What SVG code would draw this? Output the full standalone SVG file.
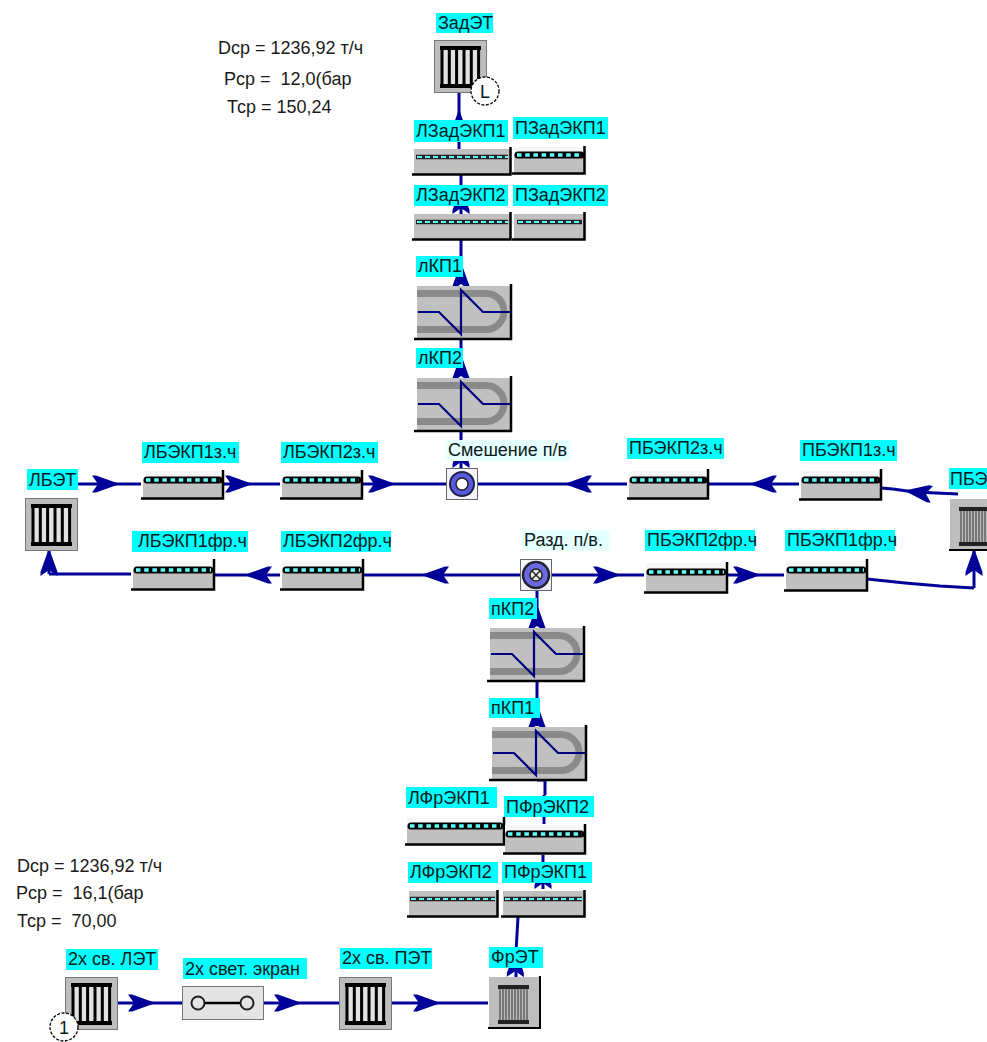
<svg xmlns="http://www.w3.org/2000/svg" width="987" height="1042" viewBox="0 0 987 1042">
<style>
text{font-family:"Liberation Sans",Arial,sans-serif;font-size:18px;fill:#0a1a1a;white-space:pre}
.t{font-size:18px;fill:#1a1a1a}
.lb{fill:#00ffff}
.lc{fill:#e6ffff}
.b{fill:#c0c0c0}
.tp{fill:#f6f6f6}
.k{fill:none;stroke:#000;stroke-width:2.5}
.c1{fill:none;stroke:#000;stroke-width:7;stroke-linecap:round}
.c2{fill:none;stroke:#5fffff;stroke-width:3.5;stroke-dasharray:4.5 3.7}
.d1{fill:none;stroke:#222;stroke-width:4.5}
.d2{fill:none;stroke:#5fffff;stroke-width:2;stroke-dasharray:5 3}
.l{fill:none;stroke:#000099;stroke-width:3}
.a{fill:none;stroke:#000099;stroke-width:3;marker-mid:url(#ah)}
</style>
<defs>
<marker id="ah" markerUnits="userSpaceOnUse" markerWidth="28" markerHeight="20" refX="25" refY="10" orient="auto">
<path d="M0 1.500L4 1.500L25 9L25 11L4 18.500L0 18.500L6 10Z" fill="#000099"/>
</marker>
<g id="et">
<rect x="0.5" y="0.5" width="52" height="52" fill="#bdbdbd" stroke="#777"/>
<rect x="7" y="8" width="39" height="36" fill="#e2e2e2"/>
<rect x="6" y="6" width="41" height="4" fill="#000"/>
<rect x="6" y="44" width="41" height="4" fill="#000"/>
<path d="M8 8V46M15.300 8V46M22.600 8V46M30 8V46M37.300 8V46M44.600 8V46" fill="none" stroke="#000" stroke-width="3"/>
</g>
<g id="etf">
<rect x="0" y="0" width="50" height="50" fill="#bdbdbd"/>
<path d="M-1 51H51V-1" fill="none" stroke="#000" stroke-width="2"/>
<path d="M11 8V46M14 8V46M17 8V46M20 8V46M23 8V46M26 8V46M29 8V46M32 8V46M35 8V46M38 8V46" fill="none" stroke="#666" stroke-width="1.6"/>
<rect x="9" y="8" width="31" height="4" fill="#222"/>
<rect x="9" y="43" width="31" height="4" fill="#222"/>
</g>
<g id="kp">
<rect x="1" y="2" width="94" height="52" fill="#c0c0c0"/>
<path d="M1 9.500H70A18 18 0 0 1 70 45.500H1" fill="none" stroke="#8a8a8a" stroke-width="7"/>
<path d="M-2 55H95V0" fill="none" stroke="#000" stroke-width="2.500"/>
<path d="M2 28H23L45 50V6L67 28H94" fill="none" stroke="#000080" stroke-width="2.200"/>
</g>
</defs>
<g id="connectors">
<polyline class="a" points="459,149 459,112 459,92"/>
<polyline class="a" points="461,240 461,189 461,175"/>
<polyline class="a" points="461,284 461,265 461,240"/>
<polyline class="a" points="461,376 461,357 461,338"/>
<polyline class="a" points="461,468 461,443 461,431"/>
<polyline class="a" points="78,484 117,484 141,484"/>
<polyline class="a" points="223,484 250,484 280,484"/>
<polyline class="a" points="362,484 393,484 446,484"/>
<polyline class="a" points="627,484 567,484 478,484"/>
<polyline class="a" points="799,484 752,484 708,484"/>
<polyline class="a" points="915,492 907,491 893,489"/>
<polyline class="l" points="958,494 915,492"/>
<polyline class="l" points="893,489 881,488"/>
<polyline class="a" points="520,575 424,575 363,575"/>
<polyline class="a" points="280,575 247,575 214,575"/>
<polyline class="l" points="131,574 49,574"/>
<polyline class="a" points="49,574 49,551 49,549"/>
<polyline class="a" points="552,575 618,575 644,575"/>
<polyline class="a" points="727,575 758,575 784,575"/>
<polyline class="l" points="867,579 905,583 940,586 974,588"/>
<polyline class="a" points="974,588 974,551 974,549"/>
<polyline class="a" points="537,626 537,607 537,591"/>
<polyline class="a" points="537,726 537,706 537,682"/>
<polyline class="l" points="537,780 545,780 545,795"/>
<polyline class="l" points="544,795 544,824"/>
<polyline class="a" points="543,889 543,864 543,855"/>
<polyline class="a" points="516,977 516,952 518,917"/>
<polyline class="a" points="117,1003 153,1003 182,1003"/>
<polyline class="a" points="264,1003 299,1003 339,1003"/>
<polyline class="a" points="391,1003 438,1003 488,1003"/>
</g>
<g id="stats-top">
<text class="t" x="218" y="54">Dср = 1236,92 т/ч</text>
<text class="t" x="224" y="85">Рср =  12,0(бар</text>
<text class="t" x="227" y="113">Тср = 150,24</text>
</g>
<g id="stats-bottom">
<text class="t" x="17" y="872">Dср = 1236,92 т/ч</text>
<text class="t" x="16" y="899">Рср =  16,1(бар</text>
<text class="t" x="17" y="927">Тср =  70,00</text>
</g>
<g id="ZadET"><use href="#et" x="434" y="40"/><rect class="lb" x="436" y="13" width="57" height="20"/><text x="438" y="29">ЗадЭТ</text>
<circle cx="485" cy="91" r="14" fill="#fff" stroke="#000" stroke-width="1.300" stroke-dasharray="3 1.500"/><text x="480" y="98">L</text></g>
<g id="LZad1"><rect class="b" x="414" y="149" width="96" height="25"/><path class="k" d="M412 174.500H510.500V147"/><path class="d1" d="M416 157H508"/><path class="d2" d="M417 157H508"/><rect class="lb" x="414" y="120" width="94" height="22"/><text x="416" y="137">ЛЗадЭКП1</text></g>
<g id="PZad1"><rect class="tp" x="514" y="147" width="70" height="8"/><rect class="b" x="514" y="155" width="70" height="18"/><path class="k" d="M512 173.500H584.500V146"/><path class="c1" d="M518 155H581"/><path class="c2" d="M517 155H582"/><rect class="lb" x="513" y="117" width="95" height="22"/><text x="515" y="134">ПЗадЭКП1</text></g>
<g id="LZad2"><rect class="b" x="414" y="214" width="96" height="25"/><path class="k" d="M412 239.500H510.500V212"/><path class="d1" d="M416 222H508"/><path class="d2" d="M417 222H508"/><rect class="lb" x="414" y="185" width="94" height="21"/><text x="416" y="201">ЛЗадЭКП2</text></g>
<g id="PZad2"><rect class="b" x="514" y="214" width="70" height="25"/><path class="k" d="M512 239.500H584.500V212"/><path class="d1" d="M517 222H582"/><path class="d2" d="M518 222H582"/><rect class="lb" x="513" y="185" width="95" height="21"/><text x="515" y="201">ПЗадЭКП2</text></g>
<g id="lKP1"><use href="#kp" x="416" y="284"/><rect class="lb" x="416" y="256" width="47" height="21"/><text x="418" y="272">лКП1</text></g>
<g id="lKP2"><use href="#kp" x="416" y="376"/><rect class="lb" x="416" y="348" width="47" height="20"/><text x="418" y="364">лКП2</text></g>
<g id="Mix"><rect x="446.500" y="468.500" width="31" height="31" fill="#f4f4ff" stroke="#666"/><circle cx="462" cy="484" r="12" fill="#5a5ae0" stroke="#224" stroke-width="2"/><circle cx="462" cy="484" r="6" fill="#fff" stroke="#222" stroke-width="1.500"/><rect class="lc" x="446" y="440" width="124" height="21"/><text x="448" y="456">Смешение п/в</text></g>
<g id="LBET"><use href="#et" x="25" y="498"/><rect class="lb" x="27" y="469" width="51" height="21"/><text x="29" y="486">ЛБЭТ</text></g>
<g id="LBE1z"><rect class="tp" x="143" y="471" width="79" height="9"/><rect class="b" x="143" y="480" width="79" height="18"/><path class="k" d="M141 498.500H223V470"/><path class="c1" d="M147 480H219"/><path class="c2" d="M146 480H220"/><rect class="lb" x="142" y="442" width="97" height="21"/><text x="144" y="458">ЛБЭКП1з.ч</text></g>
<g id="LBE2z"><rect class="tp" x="282" y="471" width="79" height="9"/><rect class="b" x="282" y="480" width="79" height="18"/><path class="k" d="M280 498.500H362V470"/><path class="c1" d="M286 480H358"/><path class="c2" d="M285 480H359"/><rect class="lb" x="281" y="442" width="97" height="21"/><text x="283" y="458">ЛБЭКП2з.ч</text></g>
<g id="PBE2z"><rect class="tp" x="629" y="471" width="78" height="9"/><rect class="b" x="629" y="480" width="78" height="18"/><path class="k" d="M627 498.500H708V469"/><path class="c1" d="M633 480H704"/><path class="c2" d="M632 480H705"/><rect class="lb" x="627" y="438" width="97" height="21"/><text x="629" y="454">ПБЭКП2з.ч</text></g>
<g id="PBE1z"><rect class="tp" x="801" y="471" width="79" height="9"/><rect class="b" x="801" y="480" width="79" height="19"/><path class="k" d="M799 499.500H881V469"/><path class="c1" d="M805 480H877"/><path class="c2" d="M804 480H878"/><rect class="lb" x="800" y="440" width="97" height="21"/><text x="802" y="456">ПБЭКП1з.ч</text></g>
<g id="PBET"><use href="#etf" x="950" y="499"/><rect class="lb" x="949" y="468" width="38" height="21"/><text x="950" y="485">ПБЭ</text></g>
<g id="LBE1f"><rect class="tp" x="133" y="561" width="80" height="9"/><rect class="b" x="133" y="570" width="80" height="19"/><path class="k" d="M131 589.500H214V559"/><path class="c1" d="M137 570H210"/><path class="c2" d="M136 570H211"/><rect class="lb" x="132" y="531" width="116" height="21"/><text x="138" y="547">ЛБЭКП1фр.ч</text></g>
<g id="LBE2f"><rect class="tp" x="282" y="561" width="80" height="9"/><rect class="b" x="282" y="570" width="80" height="19"/><path class="k" d="M280 589.500H363V559"/><path class="c1" d="M286 570H359"/><path class="c2" d="M285 570H360"/><rect class="lb" x="281" y="531" width="110" height="21"/><text x="283" y="547">ЛБЭКП2фр.ч</text></g>
<g id="PBE2f"><rect class="tp" x="646" y="563" width="80" height="9"/><rect class="b" x="646" y="572" width="80" height="20"/><path class="k" d="M644 592.500H727V562"/><path class="c1" d="M650 572H723"/><path class="c2" d="M649 572H724"/><rect class="lb" x="645" y="530" width="110" height="21"/><text x="647" y="546">ПБЭКП2фр.ч</text></g>
<g id="PBE1f"><rect class="tp" x="786" y="561" width="80" height="9"/><rect class="b" x="786" y="570" width="80" height="20"/><path class="k" d="M784 590.500H867V559"/><path class="c1" d="M790 570H863"/><path class="c2" d="M789 570H864"/><rect class="lb" x="785" y="530" width="110" height="21"/><text x="787" y="546">ПБЭКП1фр.ч</text></g>
<g id="Razd"><rect x="520.500" y="559.500" width="31" height="31" fill="#f4f4ff" stroke="#666"/><circle cx="536" cy="575" r="13" fill="#6a6ae0" stroke="#223" stroke-width="2.500"/><circle cx="536" cy="575" r="6" fill="#eee" stroke="#222" stroke-width="1.500"/><path d="M532 571L540 579M540 571L532 579" stroke="#222" stroke-width="1.500"/><rect class="lc" x="522" y="530" width="88" height="21"/><text x="524" y="546">Разд. п/в.</text></g>
<g id="pKP2"><use href="#kp" x="489" y="626"/><rect class="lb" x="489" y="598" width="48" height="21"/><text x="491" y="615">пКП2</text></g>
<g id="pKP1"><use href="#kp" x="491" y="725"/><rect class="lb" x="489" y="698" width="51" height="20"/><text x="491" y="714">пКП1</text></g>
<g id="LFr1"><rect class="tp" x="407" y="818" width="96" height="8"/><rect class="b" x="407" y="826" width="96" height="18"/><path class="k" d="M405 844.500H504V817"/><path class="c1" d="M411 826H500"/><path class="c2" d="M410 826H501"/><rect class="lb" x="406" y="787" width="91" height="21"/><text x="408" y="804">ЛФрЭКП1</text></g>
<g id="PFr2"><rect class="tp" x="505" y="825" width="79" height="9"/><rect class="b" x="505" y="834" width="79" height="19"/><path class="k" d="M503 853.500H585V824"/><path class="c1" d="M509 834H581"/><path class="c2" d="M508 834H582"/><rect class="lb" x="504" y="796" width="90" height="21"/><text x="506" y="813">ПФрЭКП2</text></g>
<g id="LFr2"><rect class="b" x="409" y="891" width="88" height="25"/><path class="k" d="M407 916.500H497.500V890"/><path class="d1" d="M410 899H495"/><path class="d2" d="M411 899H495"/><rect class="lb" x="408" y="862" width="90" height="21"/><text x="410" y="878">ЛФрЭКП2</text></g>
<g id="PFr1"><rect class="b" x="503" y="891" width="81" height="25"/><path class="k" d="M501 916.500H584.500V890"/><path class="d1" d="M504 899H582"/><path class="d2" d="M505 899H582"/><rect class="lb" x="502" y="862" width="90" height="21"/><text x="504" y="878">ПФрЭКП1</text></g>
<g id="FrET"><use href="#etf" x="489" y="977"/><rect class="lb" x="489" y="947" width="54" height="21"/><text x="491" y="963">ФрЭТ</text></g>
<g id="LET2x"><use href="#et" x="65" y="977"/><rect class="lb" x="66" y="949" width="92" height="21"/><text x="68" y="965">2х св. ЛЭТ</text>
<circle cx="64" cy="1027" r="14" fill="#fff" stroke="#000" stroke-width="1.300" stroke-dasharray="3 1.500"/><text x="59" y="1034">1</text></g>
<g id="Screen2x"><rect x="182.500" y="986.500" width="81" height="33" fill="#e4e4e4" stroke="#777"/><path d="M198 1003H247" stroke="#000" stroke-width="2.500"/><circle cx="198" cy="1003" r="6.500" fill="#e4e4e4" stroke="#222" stroke-width="2"/><circle cx="247" cy="1003" r="6.500" fill="#e4e4e4" stroke="#222" stroke-width="2"/><rect class="lb" x="183" y="958" width="124" height="21"/><text x="185" y="975">2х свет. экран</text></g>
<g id="PET2x"><use href="#et" x="339" y="977"/><rect class="lb" x="340" y="948" width="92" height="21"/><text x="342" y="964">2х св. ПЭТ</text></g>
</svg>
